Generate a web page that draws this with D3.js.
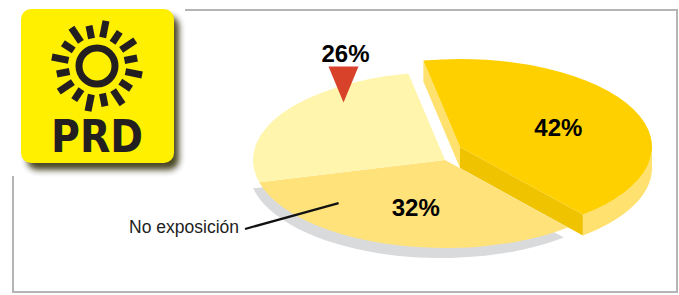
<!DOCTYPE html>
<html lang="es">
<head>
<meta charset="UTF-8">
<title>PRD</title>
<script src="https://cdnjs.cloudflare.com/ajax/libs/d3/7.8.5/d3.min.js"></script>
<style>
    body { margin: 0; background: #fff; }
    svg { display: block; }
    .pct { font-family: "Liberation Sans", Arial, sans-serif; font-weight: bold; font-size: 24px; fill: #000; text-anchor: middle; }
    .callout { font-family: "Liberation Sans", Arial, sans-serif; font-size: 17.5px; fill: #222; }
</style>
</head>
<body>
<div id="chart"></div>
<script>
// data
const categories = ["", "No exposición", ""];
const values = [42, 32, 26];
const valueLabels = ["42%", "32%", "26%"];
const colors = ["#ffd000", "#ffe27a", "#fff5ad"];

const W = 679, H = 295;
const center = { x: 445, y: 160 };
const rx = 192, ry = 88, depth = 21;
const explode = { dx: 15, dy: -13 };   // first slice pulled out
const startDeg = -11;

const svg = d3.select("#chart").append("svg")
    .attr("width", W)
    .attr("height", H);

const defs = svg.append("defs");
defs.append("filter").attr("id", "blur")
    .attr("x", "-20%").attr("y", "-20%").attr("width", "140%").attr("height", "140%")
    .append("feGaussianBlur").attr("stdDeviation", 3);

// frame
svg.append("rect")
    .attr("x", 13).attr("y", 10)
    .attr("width", 664).attr("height", 282)
    .attr("fill", "none")
    .attr("stroke", "#b4b4b4")
    .attr("stroke-width", 2);

// logo
const logo = svg.append("g");
logo.append("rect").attr("x", 0).attr("y", 0).attr("width", 185).attr("height", 176).attr("fill", "#fff");
logo.append("rect")
    .attr("x", 27).attr("y", 16).attr("width", 152).attr("height", 154).attr("rx", 10)
    .attr("fill", "#2b2700").attr("opacity", 0.85)
    .attr("filter", "url(#blur)");
logo.append("rect")
    .attr("x", 21).attr("y", 9).attr("width", 153).attr("height", 154).attr("rx", 10)
    .attr("fill", "#fff000");
const sun = logo.append("g").attr("transform", "translate(97,66)");
sun.append("circle").attr("r", 18).attr("fill", "none").attr("stroke", "#231f20").attr("stroke-width", 7);
d3.range(16).forEach(i => {
    const long = i % 2 === 0;
    sun.append("rect")
        .attr("x", -3.5).attr("y", long ? -46 : -41)
        .attr("width", 7).attr("height", long ? 17 : 13)
        .attr("fill", "#231f20")
        .attr("transform", `rotate(${i * 22.5 + 11.25})`);
});
logo.append("text")
    .attr("x", 97).attr("y", 152)
    .attr("text-anchor", "middle")
    .attr("textLength", 92)
    .attr("lengthAdjust", "spacingAndGlyphs")
    .style("font-family", "'Liberation Sans Narrow', 'DejaVu Sans Condensed', Arial, sans-serif")
    .style("font-weight", "bold")
    .style("font-size", "44px")
    .style("fill", "#231f20")
    .text("PRD");

// pie layout
const pie = d3.pie().sort(null)
    .startAngle(startDeg * Math.PI / 180)
    .endAngle(startDeg * Math.PI / 180 + 2 * Math.PI);
const arcs = pie(values);

const pt = (c, a, f = 1) => [c.x + rx * f * Math.sin(a), c.y - ry * f * Math.cos(a)];

function sector(c, a0, a1) {
    const p0 = pt(c, a0), p1 = pt(c, a1);
    const large = (a1 - a0) > Math.PI ? 1 : 0;
    return `M${c.x},${c.y}L${p0}A${rx},${ry} 0 ${large} 1 ${p1}Z`;
}

function rimSide(c, a0, a1) {
    const t0 = pt(c, a0), t1 = pt(c, a1);
    const b0 = [t0[0], t0[1] + depth], b1 = [t1[0], t1[1] + depth];
    const large = (a1 - a0) > Math.PI ? 1 : 0;
    return `M${t0}A${rx},${ry} 0 ${large} 1 ${t1}L${b1}A${rx},${ry} 0 ${large} 0 ${b0}Z`;
}

function cutFace(c, a) {
    const t = pt(c, a);
    return `M${c.x},${c.y}L${t}L${t[0]},${t[1] + depth}L${c.x},${c.y + depth}Z`;
}

const chart = svg.append("g");

// shadow under the flat part
const s = arcs[1];
chart.append("path")
    .attr("d", sector({ x: center.x - 4, y: center.y + 10 }, s.startAngle, s.endAngle + 0.045))
    .attr("fill", "#d9dadc");

// flat slices
chart.selectAll(".slice")
    .data(arcs.slice(1))
    .enter().append("path")
    .attr("class", "slice")
    .attr("d", d => sector(center, d.startAngle, d.endAngle))
    .attr("fill", (d, i) => colors[i + 1]);

// exploded slice with thickness
const e = arcs[0];
const ec = { x: center.x + explode.dx, y: center.y + explode.dy };
chart.append("path").attr("d", cutFace(ec, e.startAngle)).attr("fill", "#ffe170");
chart.append("path").attr("d", cutFace(ec, e.endAngle)).attr("fill", "#f0c300");
const r0 = Math.max(e.startAngle, Math.PI / 2), r1 = Math.min(e.endAngle, 3 * Math.PI / 2);
if (r1 > r0) chart.append("path").attr("d", rimSide(ec, r0, r1)).attr("fill", "#ffe170");
chart.append("path").attr("d", sector(ec, e.startAngle, e.endAngle)).attr("fill", colors[0]);

// value labels
const mid = d => (d.startAngle + d.endAngle) / 2;
[0, 1].forEach(i => {
    const c = i === 0 ? ec : center;
    const p = pt(c, mid(arcs[i]), 0.55);
    chart.append("text").attr("class", "pct")
        .attr("x", p[0] + 3).attr("y", p[1] + 10)
        .text(valueLabels[i]);
});

// 26% marker
const tip = pt(center, 321 * Math.PI / 180, 0.84);
chart.append("path")
    .attr("d", `M${tip[0] - 15},${tip[1] - 36}L${tip[0] + 15},${tip[1] - 36}L${tip[0]},${tip[1]}Z`)
    .attr("fill", "#d8412a");
chart.append("text").attr("class", "pct")
    .attr("x", tip[0] + 2).attr("y", tip[1] - 41)
    .text(valueLabels[2]);

// callout
const lp = pt(center, 228.5 * Math.PI / 180, 0.74);
chart.append("line")
    .attr("x1", lp[0]).attr("y1", lp[1])
    .attr("x2", 245).attr("y2", 229)
    .attr("stroke", "#111").attr("stroke-width", 2.2);
chart.append("text").attr("class", "callout")
    .attr("x", 239).attr("y", 233)
    .attr("text-anchor", "end")
    .text(categories[1]);
</script>
</body>
</html>
